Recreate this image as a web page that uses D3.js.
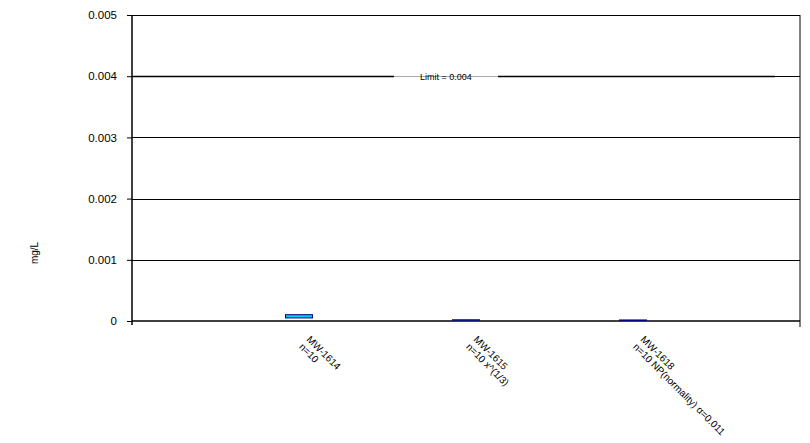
<!DOCTYPE html>
<html>
<head>
<meta charset="utf-8">
<script src="https://cdn.jsdelivr.net/npm/d3@7"></script>
<style>
  html, body { margin: 0; padding: 0; background: #fff; }
  svg { display: block; font-family: "Liberation Sans", Arial, sans-serif; }
</style>
</head>
<body>
<svg id="chart" width="810" height="443"></svg>
<script>
// Wells and their sample notes
const wells = ["MW-1614", "MW-1615", "MW-1618"];
const notes = ["n=10", "n=10 x^(1/3)", "n=10 NP(normality) \u03b1=0.011"];
// Confidence interval bounds per well (mg/L)
const lowerBound = [0.00005, 0.000015, 0.000012];
const upperBound = [0.000103, 0.00002, 0.000017];
// Regulatory limit
const limitValue = 0.004;
const limitLabel = "Limit = 0.004";
// Y axis ticks
const yTicks = [0, 0.001, 0.002, 0.003, 0.004, 0.005];
const yTickLabels = ["0", "0.001", "0.002", "0.003", "0.004", "0.005"];

const svg = d3.select("#chart");
const margin = { left: 132, right: 10, top: 15, bottom: 122 };
const W = 810, H = 443;
const x0 = margin.left, x1 = W - margin.right;
const y0 = H - margin.bottom, y1 = margin.top;

// Category slots: an empty slot before and after the wells
const x = d3.scaleLinear().domain([0, wells.length + 1]).range([x0, x1]);
const y = d3.scaleLinear().domain([0, 0.005]).range([y0, y1]);

// Gridlines
svg.append("g").selectAll("line").data(yTicks.filter(d => d > 0)).join("line")
  .attr("x1", x0).attr("x2", x1)
  .attr("y1", d => Math.round(y(d)) + 0.5).attr("y2", d => Math.round(y(d)) + 0.5)
  .attr("stroke", "#000").attr("stroke-width", 1);

// Y axis
const yAxis = d3.axisLeft(y).tickValues(yTicks)
  .tickFormat((d, i) => yTickLabels[i]).tickSize(5).tickPadding(10);
const gy = svg.append("g").attr("transform", `translate(${x0},0)`).call(yAxis);
gy.select(".domain").remove();
gy.selectAll(".tick line").attr("stroke", "#000");
gy.selectAll(".tick text").attr("font-size", 11.5).attr("fill", "#000")
  .attr("font-family", "Liberation Sans, Arial, sans-serif");

// Frame: left axis, bottom axis, right edge
svg.append("line").attr("x1", x0).attr("x2", x0).attr("y1", y1).attr("y2", y0 + 4)
  .attr("stroke", "#000").attr("stroke-width", 1.5);
svg.append("line").attr("x1", x0).attr("x2", x1).attr("y1", y0).attr("y2", y0)
  .attr("stroke", "#000").attr("stroke-width", 1.5);
svg.append("line").attr("x1", x1).attr("x2", x1).attr("y1", y1).attr("y2", y0 + 6)
  .attr("stroke", "#000").attr("stroke-width", 1);

// Limit line with a grey stretch behind its label
const limY = Math.round(y(limitValue)) + 0.5;
const limStart = x(0), limEnd = x(wells.length + 0.85);
const labelX = x(1.88);
const gapHalf = 52;
svg.append("rect").attr("x", labelX - gapHalf).attr("y", limY - 3)
  .attr("width", gapHalf * 2).attr("height", 6).attr("fill", "#fff");
svg.append("line").attr("x1", labelX - gapHalf).attr("x2", labelX + gapHalf)
  .attr("y1", limY).attr("y2", limY).attr("stroke", "#aaa").attr("stroke-width", 1);
svg.append("line").attr("x1", limStart).attr("x2", labelX - gapHalf)
  .attr("y1", limY).attr("y2", limY).attr("stroke", "#000").attr("stroke-width", 1.5);
svg.append("line").attr("x1", labelX + gapHalf).attr("x2", limEnd)
  .attr("y1", limY).attr("y2", limY).attr("stroke", "#000").attr("stroke-width", 1.5);
svg.append("text").attr("x", labelX).attr("y", limY + 3)
  .attr("text-anchor", "middle").attr("font-size", 9).attr("fill", "#000")
  .text(limitLabel);

// Interval boxes
const boxW = 27;
svg.append("g").selectAll("rect").data(wells).join("rect")
  .attr("x", (d, i) => x(i + 1) - boxW / 2)
  .attr("y", (d, i) => y(upperBound[i]))
  .attr("width", boxW)
  .attr("height", (d, i) => Math.max(0.5, y(lowerBound[i]) - y(upperBound[i])))
  .attr("fill", "#00ccff").attr("stroke", "#000080").attr("stroke-width", 1);

// Rotated category labels
const lab = svg.append("g").selectAll("text").data(wells).join("text")
  .attr("transform", (d, i) => `translate(${x(i + 1) + 7},${y0 + 19}) rotate(45)`)
  .attr("font-size", 10).attr("fill", "#000");
lab.append("tspan").attr("x", 0).attr("dy", 0).text(d => d);
lab.append("tspan").attr("x", 0).attr("dy", 10.5).text((d, i) => notes[i]);

// Y axis title
svg.append("text").attr("transform", `translate(38,253) rotate(-90)`)
  .attr("text-anchor", "middle").attr("font-size", 10).attr("fill", "#000")
  .text("mg/L");
</script>
</body>
</html>
